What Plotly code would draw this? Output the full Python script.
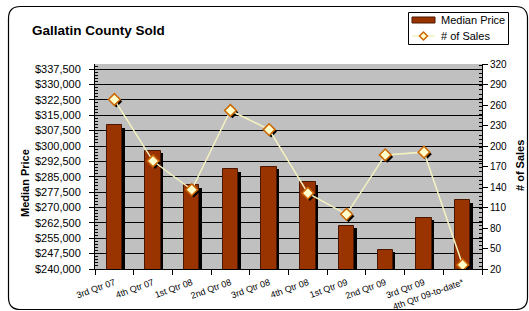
import plotly.graph_objects as go

categories = ["3rd Qtr 07", "4th Qtr 07", "1st Qtr 08", "2nd Qtr 08", "3rd Qtr 08",
              "4th Qtr 08", "1st Qtr 09", "2nd Qtr 09", "3rd Qtr 09", "4th Qtr 09-to-date*"]
median_price = [310200, 297800, 280800, 288600, 289800, 282300, 261200, 249300, 265000, 273600]
num_sales = [268, 178, 136, 252, 224, 131, 100, 187, 191, 26]
price_ticks = list(range(240000, 337501, 7500))
sales_ticks = list(range(20, 321, 30))
series_names = ["Median Price", "# of Sales"]

W, H = 529, 311
L, R, T, B = 95, 47, 64, 42
pw, ph = W - L - R, H - T - B
FONT = "Arial, Liberation Sans, sans-serif"
BAR_COLOR = "#993300"
LINE_COLOR = "#F5F2C0"
MK_FILL = "#FFFFCC"
MK_EDGE = "#CC6600"


def px(x):
    return (x - L) / pw


def py(y):
    return (H - B - y) / ph


xs = list(range(len(categories)))
cat_w = pw / len(categories)
price_per_px = (340000 - 240000) / ph
sales_per_px = (320 - 20) / ph

fig = go.Figure()
# bar shadows
fig.add_trace(go.Bar(
    x=[i + 2.5 / cat_w for i in xs], y=[v - 2.5 * price_per_px for v in median_price],
    width=0.4, marker=dict(color="black", line_width=0), showlegend=False, hoverinfo="skip"))
# bars
fig.add_trace(go.Bar(
    x=xs, y=median_price, width=0.4, name=series_names[0], showlegend=False,
    marker=dict(color=BAR_COLOR, line=dict(color="#4a1800", width=1))))
# marker shadows
fig.add_trace(go.Scatter(
    x=[i + 2 / cat_w for i in xs], y=[v - 2 * sales_per_px for v in num_sales],
    mode="markers", yaxis="y2", showlegend=False, hoverinfo="skip",
    marker=dict(symbol="diamond", size=9, color="black", line_width=0)))
# line
fig.add_trace(go.Scatter(
    x=xs, y=num_sales, mode="lines+markers", yaxis="y2", name=series_names[1], showlegend=False,
    line=dict(color=LINE_COLOR, width=1.5),
    marker=dict(symbol="diamond", size=9, color=MK_FILL, line=dict(color=MK_EDGE, width=1.5))))

# rounded chart border
r = 12
x0, y0, x1, y1 = 8.5, 6.5, 527.5, 309.5
path = (f"M {px(x0 + r)} {py(y0)} L {px(x1 - r)} {py(y0)} Q {px(x1)} {py(y0)} {px(x1)} {py(y0 + r)} "
        f"L {px(x1)} {py(y1 - r)} Q {px(x1)} {py(y1)} {px(x1 - r)} {py(y1)} "
        f"L {px(x0 + r)} {py(y1)} Q {px(x0)} {py(y1)} {px(x0)} {py(y1 - r)} "
        f"L {px(x0)} {py(y0 + r)} Q {px(x0)} {py(y0)} {px(x0 + r)} {py(y0)} Z")

shapes = [dict(type="path", path=path, xref="paper", yref="paper",
               line=dict(color="black", width=1.2), layer="above")]
# custom legend
lx0, ly0, lx1, ly1 = 408.5, 12.5, 508.5, 44.5
shapes.append(dict(type="rect", xref="paper", yref="paper", x0=px(lx0), x1=px(lx1), y0=py(ly0), y1=py(ly1),
                   fillcolor="white", line=dict(color="black", width=1), layer="above"))
shapes.append(dict(type="rect", xref="paper", yref="paper", x0=px(412), x1=px(435), y0=py(17), y1=py(23),
                   fillcolor=BAR_COLOR, line=dict(color="#4a1800", width=1), layer="above"))
shapes.append(dict(type="line", xref="paper", yref="paper", x0=px(412), x1=px(435), y0=py(36), y1=py(36),
                   line=dict(color=LINE_COLOR, width=1.5), layer="above"))
cx, cy, d = 423.5, 36, 4
shapes.append(dict(type="path", xref="paper", yref="paper",
                   path=f"M {px(cx)} {py(cy - d)} L {px(cx + d)} {py(cy)} L {px(cx)} {py(cy + d)} L {px(cx - d)} {py(cy)} Z",
                   fillcolor=MK_FILL, line=dict(color=MK_EDGE, width=1.5), layer="above"))

annotations = [
    dict(text=series_names[0], x=px(439), y=py(20), xref="paper", yref="paper", xanchor="left",
         yanchor="middle", showarrow=False, font=dict(family=FONT, size=11, color="black")),
    dict(text=series_names[1], x=px(439), y=py(36), xref="paper", yref="paper", xanchor="left",
         yanchor="middle", showarrow=False, font=dict(family=FONT, size=11, color="black")),
    dict(text="<b>Median Price</b>", x=px(25), y=py(183), xref="paper", yref="paper", textangle=-90,
         xanchor="center", yanchor="middle", showarrow=False, font=dict(family=FONT, size=11, color="black")),
    dict(text="<b># of Sales</b>", x=px(520), y=py(166), xref="paper", yref="paper", textangle=-90,
         xanchor="center", yanchor="middle", showarrow=False, font=dict(family=FONT, size=11, color="black")),
]

fig.update_layout(
    width=W, height=H, margin=dict(l=L, r=R, t=T, b=B, autoexpand=False),
    paper_bgcolor="white", plot_bgcolor="#C0C0C0",
    barmode="overlay", bargap=0, showlegend=False,
    font=dict(family=FONT, color="black", size=11),
    title=dict(text="<b>Gallatin County Sold</b>", x=32 / W, xref="container", xanchor="left",
               y=1 - 30 / H, yref="container", yanchor="middle",
               font=dict(family=FONT, size=13.5, color="black")),
    xaxis=dict(range=[-0.5, len(categories) - 0.5], tickmode="array", tickvals=xs, ticktext=categories,
               ticks="", tickangle=-20, tickfont=dict(size=9), showgrid=False, zeroline=False,
               ticklabelstandoff=4, automargin=False,
               showline=True, linecolor="black", linewidth=1,
               minor=dict(tickmode="array", tickvals=[i - 0.5 for i in range(len(categories) + 1)],
                          ticks="outside", ticklen=5, tickcolor="black", showgrid=False)),
    yaxis=dict(range=[240000, 340000], tickmode="linear", tick0=price_ticks[0],
               dtick=price_ticks[1] - price_ticks[0], tickprefix="$", tickformat=",",
               ticks="outside", ticklen=5, tickcolor="black", ticklabelstandoff=6, automargin=False,
               showgrid=True, gridcolor="black", gridwidth=1, zeroline=False,
               showline=True, linecolor="black", linewidth=1, tickfont=dict(size=11),
               minor=dict(dtick=(price_ticks[1] - price_ticks[0]) / 5, ticks="inside", ticklen=3,
                          tickcolor="black", showgrid=False)),
    yaxis2=dict(range=[20, 320], overlaying="y", side="right", tickmode="linear",
                tick0=sales_ticks[0], dtick=sales_ticks[1] - sales_ticks[0], automargin=False,
                ticks="outside", ticklen=5, tickcolor="black", showgrid=False, zeroline=False,
                showline=True, linecolor="black", linewidth=1, tickfont=dict(size=10),
                minor=dict(dtick=(sales_ticks[1] - sales_ticks[0]) / 5, ticks="inside", ticklen=3,
                           tickcolor="black", showgrid=False)),
    shapes=shapes,
    annotations=annotations,
)

fig.write_html("out.html", config={"displayModeBar": False},
               post_script="document.body.style.margin='0';")
